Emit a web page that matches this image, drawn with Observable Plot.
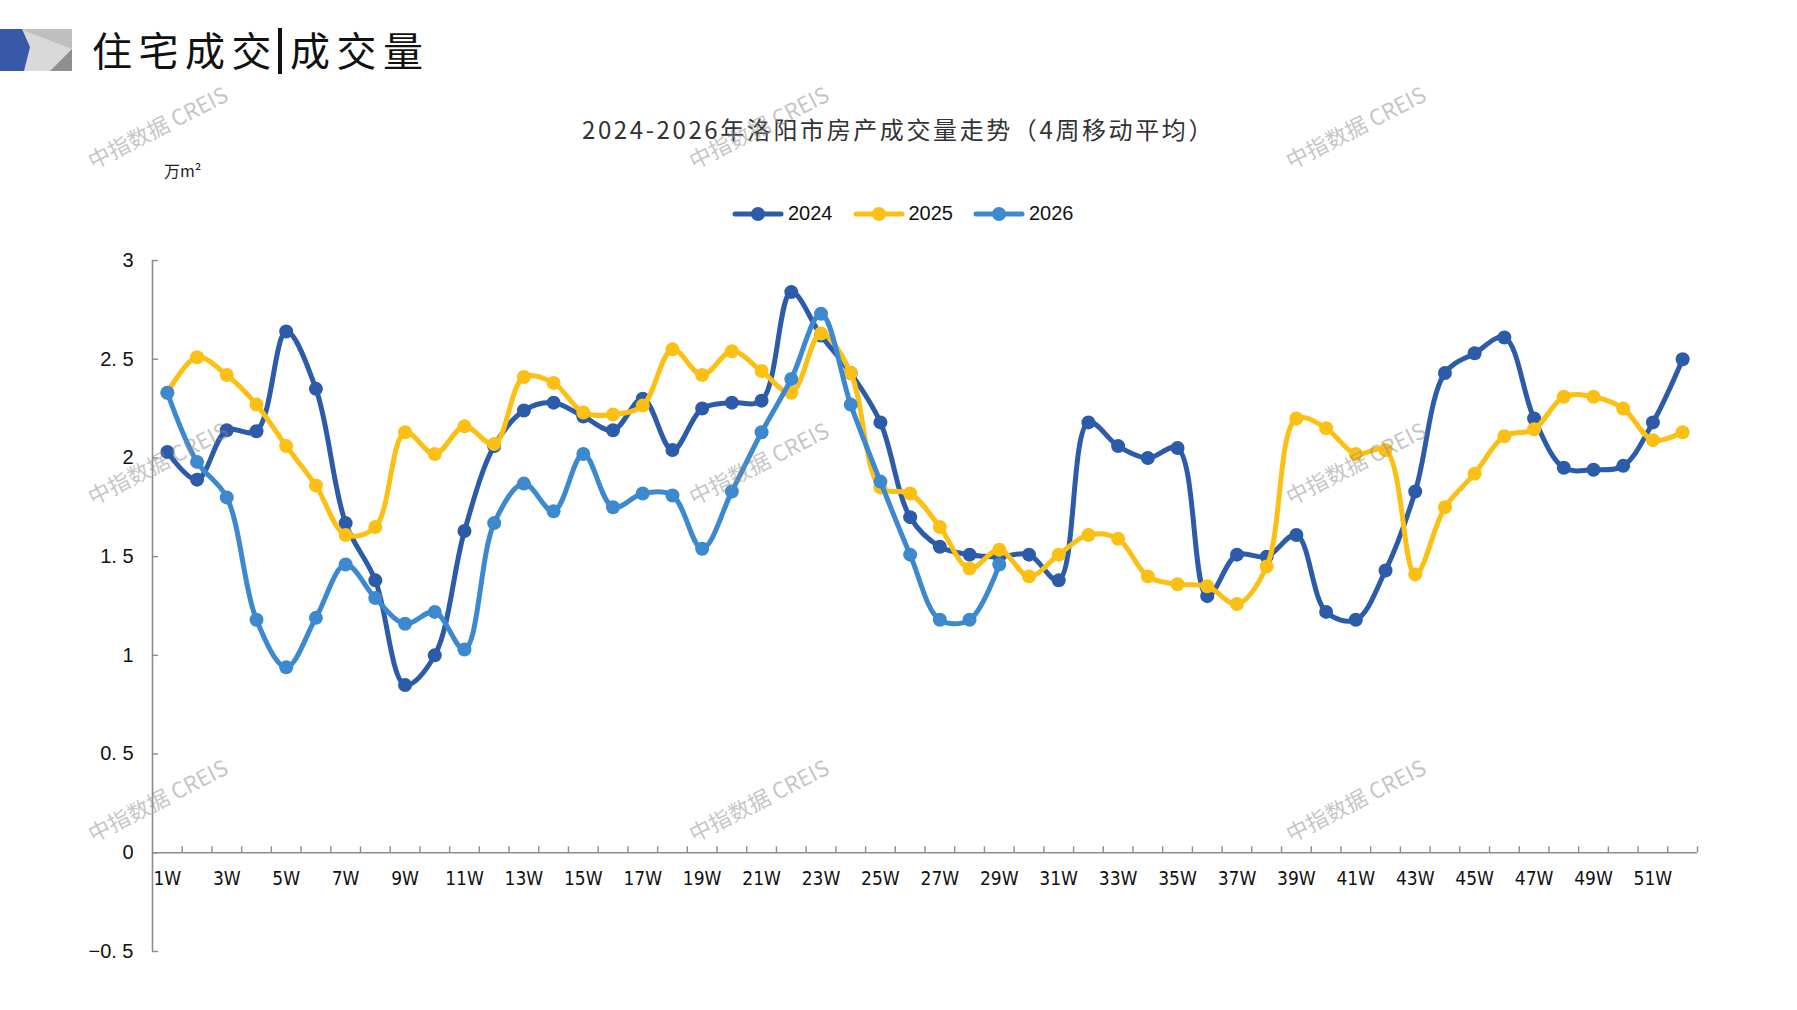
<!DOCTYPE html>
<html>
<head>
<meta charset="utf-8">
<script src="https://cdn.jsdelivr.net/npm/d3@7"></script>
<script src="https://cdn.jsdelivr.net/npm/@observablehq/plot@0.6"></script>
<style>
  body { margin: 0; background: #fff; }
  #page { position: relative; width: 1797px; height: 1010px; overflow: hidden; background: #fff;
          font-family: "Liberation Sans", Arial, sans-serif; }
  #chart { position: absolute; left: 0; top: 0; }
  .abs { position: absolute; white-space: nowrap; }
  #mainTitle { left: 92px; top: 21px; font-family: "Noto Sans CJK SC", sans-serif; font-size: 40px;
               letter-spacing: 6.5px; color: #111; font-weight: 400; line-height: 56px; }
  #mainTitle .bar { display: inline-block; width: 4px; height: 46px; background: #111; vertical-align: -8px;
                    margin: 0 8px 0 0; }
  #chartTitle { left: 0; width: 1797px; text-align: center; top: 111px; font-family: "Noto Sans CJK SC", sans-serif;
                font-size: 24px; letter-spacing: 2.6px; color: #333; }
  #unit { left: 164px; top: 158px; font-family: "Noto Sans CJK SC", sans-serif; font-size: 16px; color: #222; }
  #legend { left: 732px; top: 202px; display: flex; align-items: center; gap: 20px; font-size: 20px; color: #111; }
  #legend .item { display: flex; align-items: center; gap: 4px; }
  .wm { position: absolute; font-family: "Noto Sans CJK SC", sans-serif; font-size: 22px; color: rgba(140,140,140,0.5);
        transform: translate(-50%, -50%) rotate(-27deg); white-space: nowrap; pointer-events: none; }
</style>
</head>
<body>
<div id="page">
  <svg class="abs" style="left:0;top:29px" width="72" height="42" viewBox="0 0 72 42">
    <rect x="0" y="0" width="72" height="42" fill="#d9d9d9"/>
    <polygon points="20,0 72,0 72,20" fill="#bfbfbf"/>
    <polygon points="72,20 72,42 50,42" fill="#8f8f8f"/>
    <polygon points="0,0 22,0 30,18 24,42 0,42" fill="#3a58a8"/>
  </svg>
  <div id="mainTitle" class="abs">住宅成交<span class="bar"></span>成交量</div>
  <div id="chartTitle" class="abs">2024-2026年洛阳市房产成交量走势（4周移动平均）</div>
  <div id="unit" class="abs">万m²</div>
  <div id="legend" class="abs"></div>
  <div id="chart"></div>
  <div id="wms"></div>
</div>
<script>
// ---- data ----
const weeks = d3.range(1, 53);
const years = ["2024", "2025", "2026"];
const colors = ["#2c5ba9", "#fcc015", "#3c89d0"];
const values2024 = [2.03, 1.89, 2.14, 2.135, 2.64, 2.35, 1.67, 1.38, 0.85, 1.00,
  1.63, 2.06, 2.24, 2.28, 2.21, 2.14, 2.30, 2.04, 2.25, 2.28,
  2.29, 2.84, 2.62, 2.43, 2.18, 1.70, 1.55, 1.51, 1.50, 1.51,
  1.38, 2.18, 2.06, 2.00, 2.05, 1.30, 1.51, 1.50, 1.61, 1.22,
  1.18, 1.43, 1.83, 2.43, 2.53, 2.61, 2.20, 1.95, 1.94, 1.96,
  2.18, 2.50];
const values2025 = [2.33, 2.51, 2.42, 2.27, 2.06, 1.86, 1.61, 1.65, 2.13, 2.02,
  2.16, 2.07, 2.41, 2.38, 2.23, 2.22, 2.265, 2.55, 2.42, 2.54,
  2.44, 2.33, 2.63, 2.43, 1.85, 1.82, 1.65, 1.44, 1.535, 1.40,
  1.51, 1.61, 1.59, 1.40, 1.36, 1.35, 1.26, 1.45, 2.20, 2.15,
  2.02, 2.04, 1.41, 1.75, 1.92, 2.11, 2.145, 2.31, 2.31, 2.25,
  2.09, 2.13];
const values2026 = [2.33, 1.98, 1.80, 1.18, 0.94, 1.19, 1.46, 1.29, 1.16, 1.22,
  1.03, 1.67, 1.87, 1.73, 2.02, 1.75, 1.82, 1.81, 1.54, 1.83,
  2.13, 2.40, 2.73, 2.27, 1.88, 1.51, 1.18, 1.18, 1.46];
const yTicks = [-0.5, 0, 0.5, 1, 1.5, 2, 2.5, 3];
const xLabelWeeks = weeks.filter(w => w % 2 === 1);
const xTickBounds = d3.range(1.5, 53, 1);
const watermarkSpots = [[157,126],[758,126],[1355,126],[157,462],[758,462],[1355,462],[157,799],[758,799],[1355,799]];

// ---- build rows ----
const seriesValues = {"2024": values2024, "2025": values2025, "2026": values2026};
const rows = years.flatMap(yr => seriesValues[yr].map((v, i) => ({year: yr, week: weeks[i], value: v})));

const axisColor = "#8c8c8c";
const yFmt = d => d === 0 ? "0" : (d < 0 ? "\u2212" : "") + String(Math.abs(d)).replace(".", ". ");

const marks = [
  Plot.ruleX([0.5], {y1: -0.5, y2: 3, stroke: axisColor, strokeWidth: 1.6}),
  Plot.ruleY(yTicks, {x1: 0.5, x2: 0.7, y: d => d, stroke: axisColor, strokeWidth: 1.4}),
  Plot.ruleY([0], {x1: 0.5, x2: 52.5, stroke: axisColor, strokeWidth: 1.6}),
  Plot.ruleX(xTickBounds, {x: d => d, y1: 0, y2: 0.03, stroke: axisColor, strokeWidth: 1.4}),
  Plot.text(yTicks, {x: 0.5, y: d => d, dx: -19, textAnchor: "end", text: yFmt, fontSize: 20,
    fontFamily: "Liberation Sans, Arial, sans-serif", fill: "#111"}),
  Plot.text(xLabelWeeks, {x: d => d, y: 0, dy: 26, text: d => d + "W", fontSize: 19,
    fontFamily: "Liberation Sans Narrow, DejaVu Sans Condensed, Arial Narrow, sans-serif", fill: "#111"})
];
for (const yr of years) {
  const data = rows.filter(r => r.year === yr);
  marks.push(Plot.line(data, {x: "week", y: "value", stroke: "year", strokeWidth: 5, curve: "catmull-rom",
    strokeLinejoin: "round", strokeLinecap: "round"}));
  marks.push(Plot.dot(data, {x: "week", y: "value", fill: "year", r: 7}));
}

const chart = Plot.plot({
  width: 1797, height: 1010,
  marginLeft: 152, marginRight: 100, marginTop: 260, marginBottom: 59,
  x: {domain: [0.5, 52.5], axis: null},
  y: {domain: [-0.5, 3], axis: null},
  color: {domain: years, range: colors},
  style: {background: "transparent", overflow: "visible"},
  marks
});
document.getElementById("chart").appendChild(chart);

// ---- legend ----
const legend = document.getElementById("legend");
years.forEach((yr, i) => {
  const item = document.createElement("div");
  item.className = "item";
  item.innerHTML = `<svg width="52" height="16"><line x1="3" y1="8" x2="49" y2="8" stroke="${colors[i]}" stroke-width="5" stroke-linecap="round"/><circle cx="26" cy="8" r="7" fill="${colors[i]}"/></svg><span>${yr}</span>`;
  legend.appendChild(item);
});

// ---- watermarks ----
const wms = document.getElementById("wms");
watermarkSpots.forEach(([x, y]) => {
  const d = document.createElement("div");
  d.className = "wm";
  d.style.left = x + "px";
  d.style.top = y + "px";
  d.textContent = "中指数据 CREIS";
  wms.appendChild(d);
});
</script>
</body>
</html>
